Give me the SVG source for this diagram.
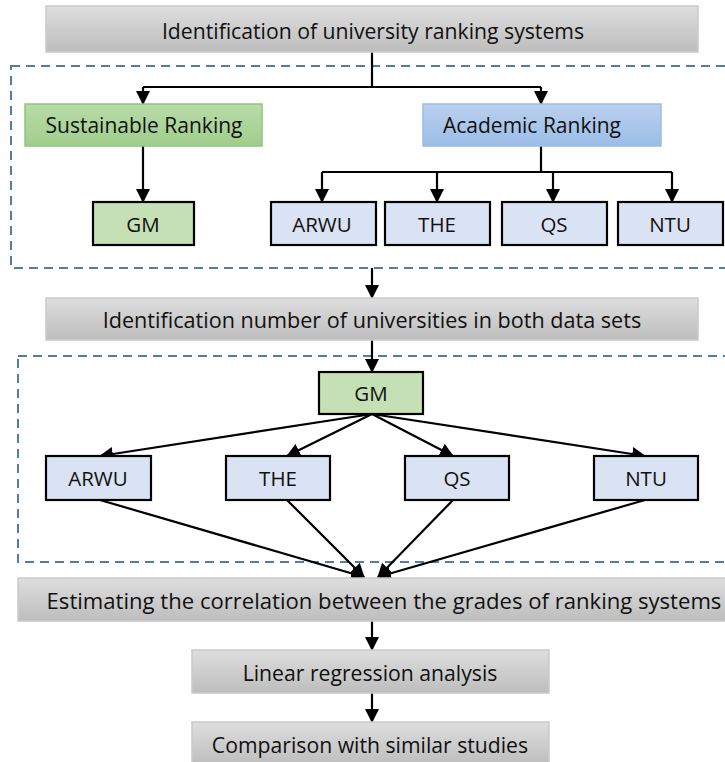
<svg xmlns="http://www.w3.org/2000/svg" width="725" height="762" viewBox="0 0 725 762">
<defs>
<linearGradient id="gGray" x1="0" y1="0" x2="0" y2="1">
<stop offset="0" stop-color="#dedede"/><stop offset="1" stop-color="#bdbdbd"/>
</linearGradient>
<linearGradient id="gGreen" x1="0" y1="0" x2="0" y2="1">
<stop offset="0" stop-color="#b9dcaa"/><stop offset="1" stop-color="#9fcd8b"/>
</linearGradient>
<linearGradient id="gBlue" x1="0" y1="0" x2="0" y2="1">
<stop offset="0" stop-color="#bad0ee"/><stop offset="1" stop-color="#9bbde7"/>
</linearGradient>
<marker id="arr" viewBox="0 0 14 14" refX="13" refY="7" markerWidth="14" markerHeight="14" markerUnits="userSpaceOnUse" orient="auto">
<path d="M0,0 L14,7 L0,14 Z" fill="#000"/>
</marker>
<style>
text{font-family:"Open Sans","Liberation Sans",sans-serif;fill:#111;text-anchor:middle;dominant-baseline:central}
.big{font-size:21.2px}
.mid{font-size:21px}
.sm{font-size:20.5px}
.gray{fill:url(#gGray);stroke:#cacaca;stroke-width:1.5}
.green{fill:url(#gGreen);stroke:#93c47d;stroke-width:1.5}
.blue{fill:url(#gBlue);stroke:#9cbde3;stroke-width:1.5}
.sgreen{fill:#c5e0b4;stroke:#000;stroke-width:2.2}
.sblue{fill:#dae3f3;stroke:#000;stroke-width:2.2}
.dash{fill:none;stroke:#4f7ea8;stroke-width:2;stroke-dasharray:9,6}
.ln{fill:none;stroke:#000;stroke-width:2.2}
.ar{fill:none;stroke:#000;stroke-width:2.2;marker-end:url(#arr)}
</style>
</defs>
<g id="dashed">
<rect class="dash" x="11" y="66" width="730" height="202"/>
<rect class="dash" x="18" y="356" width="730" height="206"/>
</g>
<g id="connectors">
<path class="ln" d="M372,52 V87 M143,87 H541"/>
<path class="ar" d="M143,87 V104"/>
<path class="ar" d="M541,87 V104"/>
<path class="ar" d="M143,146 V202"/>
<path class="ln" d="M541,146 V172 M322,172 H672"/>
<path class="ar" d="M322,172 V202"/>
<path class="ar" d="M437,172 V202"/>
<path class="ar" d="M553,172 V202"/>
<path class="ar" d="M672,172 V202"/>
<path class="ar" d="M372,268 V298"/>
<path class="ar" d="M372,340 V372"/>
<path class="ar" d="M372,414 L100,456"/>
<path class="ar" d="M372,414 L287,456"/>
<path class="ar" d="M372,414 L453,456"/>
<path class="ar" d="M372,414 L645,456"/>
<path class="ar" d="M100,500 L364,577"/>
<path class="ar" d="M287,500 L364,577"/>
<path class="ar" d="M453,500 L378,577"/>
<path class="ar" d="M645,500 L378,577"/>
<path class="ar" d="M372,621 V650"/>
<path class="ar" d="M372,693 V722"/>
</g>
<g id="n1"><rect class="gray" x="46" y="6" width="652" height="46"/><text class="big" x="373" y="30">Identification of university ranking systems</text></g>
<g id="n2"><rect class="green" x="25" y="104" width="237" height="42"/><text class="mid" x="144" y="125">Sustainable Ranking</text></g>
<g id="n3"><rect class="blue" x="423" y="104" width="238" height="42"/><text class="mid" x="532" y="125">Academic Ranking</text></g>
<g id="n4"><rect class="sgreen" x="93" y="202" width="101" height="43"/><text class="sm" x="143" y="224">GM</text></g>
<g id="n5"><rect class="sblue" x="271" y="202" width="105" height="43"/><text class="sm" x="322" y="224">ARWU</text></g>
<g id="n6"><rect class="sblue" x="385" y="202" width="105" height="43"/><text class="sm" x="437" y="224">THE</text></g>
<g id="n7"><rect class="sblue" x="502" y="202" width="105" height="43"/><text class="sm" x="554" y="224">QS</text></g>
<g id="n8"><rect class="sblue" x="618" y="202" width="105" height="43"/><text class="sm" x="670" y="224">NTU</text></g>
<g id="n9"><rect class="gray" x="46" y="298" width="652" height="42"/><text class="big" x="372" y="319" style="font-size:21.6px">Identification number of universities in both data sets</text></g>
<g id="n10"><rect class="sgreen" x="319" y="372" width="104" height="42"/><text class="sm" x="371" y="393">GM</text></g>
<g id="n11"><rect class="sblue" x="46" y="456" width="105" height="44"/><text class="sm" x="98" y="478">ARWU</text></g>
<g id="n12"><rect class="sblue" x="226" y="456" width="104" height="44"/><text class="sm" x="278" y="478">THE</text></g>
<g id="n13"><rect class="sblue" x="405" y="456" width="104" height="44"/><text class="sm" x="457" y="478">QS</text></g>
<g id="n14"><rect class="sblue" x="594" y="456" width="104" height="44"/><text class="sm" x="646" y="478">NTU</text></g>
<g id="n15"><rect class="gray" x="18" y="578" width="710" height="43"/><text class="big" x="384" y="600" style="font-size:22.1px">Estimating the correlation between the grades of ranking systems</text></g>
<g id="n16"><rect class="gray" x="192" y="650" width="357" height="43"/><text class="big" x="370" y="672">Linear regression analysis</text></g>
<g id="n17"><rect class="gray" x="192" y="722" width="357" height="43"/><text class="big" x="370" y="744">Comparison with similar studies</text></g>
</svg>
